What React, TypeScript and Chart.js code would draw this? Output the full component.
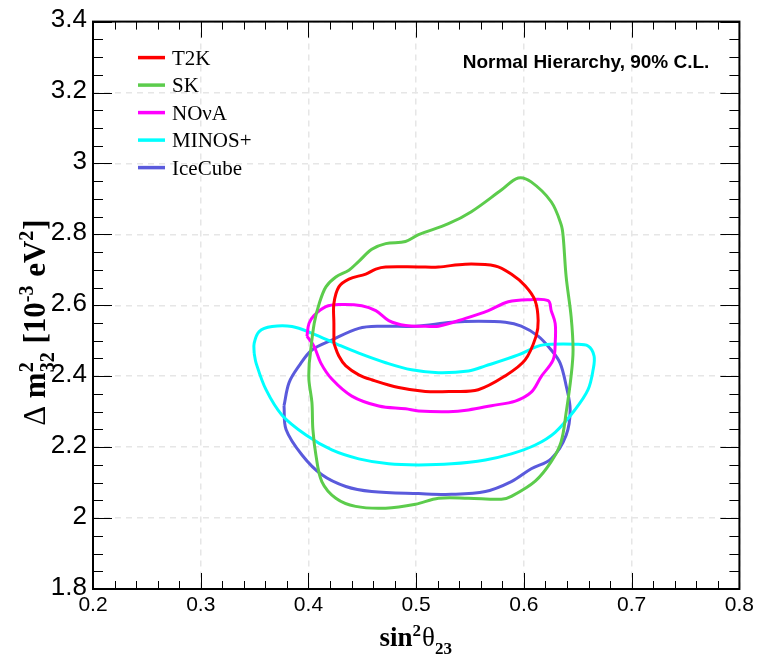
import React, { useEffect, useRef } from 'react';
import { Chart, registerables } from 'chart.js';

Chart.register(...registerables);

// ---------- axis ranges & tick labels ----------
const X_MIN = 0.2;
const X_MAX = 0.8;
const Y_MIN = 1.8;
const Y_MAX = 3.4;
const X_STEP = 0.1;
const Y_STEP = 0.2;
const X_TICK_LABELS = ['0.2', '0.3', '0.4', '0.5', '0.6', '0.7', '0.8'];
const Y_TICK_LABELS = ['1.8', '2', '2.2', '2.4', '2.6', '2.8', '3', '3.2', '3.4'];

// ---------- series (90% C.L. contours) ----------
const SERIES_NAMES = ['T2K', 'SK', 'NO\u03BDA', 'MINOS+', 'IceCube'];
const SERIES_COLORS = ['#ff0000', '#5ccc4c', '#ff00ff', '#00ffff', '#5a5adc'];

const T2K_X = [0.4236, 0.4236, 0.4236, 0.4282, 0.4375, 0.4532, 0.4625, 0.4716, 0.5022, 0.5207, 0.5456, 0.5734, 0.5882, 0.6011, 0.6104, 0.6132, 0.6113, 0.6011, 0.5826, 0.5576, 0.5326, 0.5085, 0.4837, 0.4587, 0.4467, 0.4347, 0.4282];
const T2K_Y = [2.493, 2.549, 2.605, 2.652, 2.674, 2.688, 2.702, 2.708, 2.708, 2.708, 2.716, 2.711, 2.688, 2.655, 2.613, 2.557, 2.513, 2.446, 2.401, 2.362, 2.357, 2.357, 2.368, 2.390, 2.404, 2.429, 2.457];

const SK_X = [0.4007, 0.4053, 0.4100, 0.4162, 0.4254, 0.4375, 0.4467, 0.4588, 0.4717, 0.4901, 0.5022, 0.5299, 0.5512, 0.5790, 0.5947, 0.6067, 0.6253, 0.6345, 0.6364, 0.6392, 0.6438, 0.6456, 0.6438, 0.6392, 0.6345, 0.6253, 0.6105, 0.5883, 0.5790, 0.5485, 0.5207, 0.4994, 0.4716, 0.4438, 0.4254, 0.4124, 0.4069, 0.4041, 0.4032, 0.4004];
const SK_Y = [2.437, 2.549, 2.605, 2.652, 2.680, 2.699, 2.724, 2.758, 2.774, 2.780, 2.799, 2.830, 2.864, 2.925, 2.959, 2.948, 2.892, 2.828, 2.794, 2.680, 2.568, 2.474, 2.401, 2.298, 2.215, 2.159, 2.104, 2.061, 2.053, 2.056, 2.056, 2.039, 2.028, 2.033, 2.056, 2.103, 2.178, 2.250, 2.326, 2.390];

const NOVA_X = [0.3986, 0.4005, 0.4051, 0.4162, 0.4282, 0.4495, 0.4625, 0.4745, 0.4902, 0.5088, 0.5208, 0.5457, 0.5670, 0.5855, 0.6040, 0.6225, 0.6253, 0.6290, 0.6290, 0.6271, 0.6160, 0.6068, 0.5920, 0.5698, 0.5485, 0.5300, 0.5022, 0.4902, 0.4652, 0.4402, 0.4217, 0.4115, 0.4051];
const NOVA_Y = [2.513, 2.549, 2.571, 2.596, 2.602, 2.599, 2.585, 2.557, 2.543, 2.541, 2.541, 2.563, 2.585, 2.610, 2.616, 2.613, 2.585, 2.549, 2.493, 2.446, 2.399, 2.355, 2.330, 2.317, 2.305, 2.300, 2.302, 2.308, 2.316, 2.344, 2.392, 2.437, 2.485];

const MINOS_X = [0.3496, 0.3496, 0.3542, 0.3662, 0.3847, 0.4032, 0.4282, 0.4467, 0.4717, 0.4957, 0.5207, 0.5485, 0.5642, 0.5947, 0.6132, 0.6253, 0.6475, 0.6595, 0.6651, 0.6642, 0.6595, 0.6475, 0.6290, 0.6105, 0.5883, 0.5642, 0.5328, 0.5022, 0.4745, 0.4467, 0.4217, 0.3977, 0.3755, 0.3606, 0.3514];
const MINOS_Y = [2.465, 2.493, 2.526, 2.540, 2.540, 2.521, 2.488, 2.465, 2.438, 2.418, 2.410, 2.415, 2.429, 2.460, 2.485, 2.490, 2.490, 2.485, 2.457, 2.418, 2.362, 2.306, 2.242, 2.206, 2.181, 2.164, 2.153, 2.150, 2.153, 2.167, 2.192, 2.234, 2.290, 2.362, 2.437];

const ICECUBE_X = [0.3773, 0.3820, 0.3912, 0.4032, 0.4217, 0.4467, 0.4680, 0.4994, 0.5327, 0.5577, 0.5827, 0.5975, 0.6132, 0.6253, 0.6336, 0.6392, 0.6429, 0.6392, 0.6253, 0.6068, 0.5883, 0.5642, 0.5327, 0.5022, 0.4587, 0.4347, 0.4125, 0.3940, 0.3792];
const ICECUBE_Y = [2.317, 2.382, 2.429, 2.474, 2.502, 2.535, 2.541, 2.541, 2.552, 2.555, 2.552, 2.541, 2.513, 2.474, 2.437, 2.373, 2.306, 2.234, 2.167, 2.139, 2.103, 2.075, 2.067, 2.069, 2.075, 2.089, 2.122, 2.178, 2.250];

const SERIES_X = [T2K_X, SK_X, NOVA_X, MINOS_X, ICECUBE_X];
const SERIES_Y = [T2K_Y, SK_Y, NOVA_Y, MINOS_Y, ICECUBE_Y];

const PLOT_LABEL = 'Normal Hierarchy, 90% C.L.';

// ---------- helpers ----------
const SANS = '"Liberation Sans", Arial, Helvetica, sans-serif';
const SERIF = '"Liberation Serif", "Times New Roman", Times, serif';

function closedLoop(xs: number[], ys: number[]) {
  const pts = xs.map((x, i) => ({ x, y: ys[i] }));
  pts.push({ x: xs[0], y: ys[0] });
  return pts;
}

type Piece = { t?: string; sup?: string; sub?: string; bold?: boolean };

function drawRich(ctx: CanvasRenderingContext2D, pieces: Piece[], F: number, centerX: number, baseY: number) {
  const S = Math.round(F * 0.64);
  const supDy = -0.38 * F;
  const subDy = 0.3 * F;
  const fontMain = (bold?: boolean) => `${bold === false ? '' : 'bold '}${F}px ${SERIF}`;
  const fontSmall = `bold ${S}px ${SERIF}`;
  const widthOf = (p: Piece) => {
    if (p.t !== undefined) {
      ctx.font = fontMain(p.bold);
      return ctx.measureText(p.t).width;
    }
    ctx.font = fontSmall;
    const a = p.sup ? ctx.measureText(p.sup).width : 0;
    const b = p.sub ? ctx.measureText(p.sub).width : 0;
    return Math.max(a, b) + 1;
  };
  const total = pieces.reduce((s, p) => s + widthOf(p), 0);
  let x = centerX - total / 2;
  ctx.textBaseline = 'alphabetic';
  ctx.textAlign = 'left';
  ctx.fillStyle = '#000';
  for (const p of pieces) {
    const w = widthOf(p);
    if (p.t !== undefined) {
      ctx.font = fontMain(p.bold);
      ctx.fillText(p.t, x, baseY);
    } else {
      ctx.font = fontSmall;
      if (p.sup) ctx.fillText(p.sup, x, baseY + supDy);
      if (p.sub) ctx.fillText(p.sub, x, baseY + subDy);
    }
    x += w;
  }
}

const rootStylePlugin = {
  id: 'rootStyle',
  afterDatasetsDraw(chart: any) {
    const { ctx, chartArea, scales } = chart;
    const { left, right, top, bottom } = chartArea;
    const xs = scales.x;
    const ys = scales.y;
    ctx.save();
    ctx.strokeStyle = '#000';
    ctx.lineWidth = 1;
    ctx.beginPath();
    const nx = Math.round((X_MAX - X_MIN) / 0.02);
    for (let i = 0; i <= nx; i++) {
      const px = Math.round(xs.getPixelForValue(X_MIN + i * 0.02)) + 0.5;
      const len = i % 5 === 0 ? 16 : 8;
      ctx.moveTo(px, bottom);
      ctx.lineTo(px, bottom - len);
      ctx.moveTo(px, top);
      ctx.lineTo(px, top + len);
    }
    const ny = Math.round((Y_MAX - Y_MIN) / 0.05);
    for (let i = 0; i <= ny; i++) {
      const py = Math.round(ys.getPixelForValue(Y_MIN + i * 0.05)) + 0.5;
      const len = i % 4 === 0 ? 19 : 10;
      ctx.moveTo(left, py);
      ctx.lineTo(left + len, py);
      ctx.moveTo(right, py);
      ctx.lineTo(right - len, py);
    }
    ctx.stroke();
    ctx.lineWidth = 2;
    ctx.strokeRect(left, top, right - left, bottom - top);

    // legend (inside, top-left)
    chart.data.datasets.forEach((ds: any, i: number) => {
      const rowY = top + 36 + i * 27.5;
      ctx.strokeStyle = ds.borderColor;
      ctx.lineWidth = 3.5;
      ctx.beginPath();
      ctx.moveTo(left + 45, rowY);
      ctx.lineTo(left + 72, rowY);
      ctx.stroke();
      ctx.fillStyle = '#000';
      ctx.font = `21px ${SERIF}`;
      ctx.textAlign = 'left';
      ctx.textBaseline = 'alphabetic';
      ctx.fillText(ds.label, left + 79, rowY + 7);
    });

    // plot label
    ctx.fillStyle = '#000';
    ctx.font = `bold 19px ${SANS}`;
    ctx.textAlign = 'right';
    ctx.textBaseline = 'alphabetic';
    ctx.fillText(PLOT_LABEL, right - 30, top + 46.5);

    // x axis title: sin^2 theta_23
    drawRich(
      ctx,
      [{ t: 'sin' }, { sup: '2' }, { t: '\u03B8', bold: false }, { sub: '23' }],
      27,
      (left + right) / 2,
      bottom + 57
    );

    // y axis title: Delta m^2_32 [10^-3 eV^2]
    ctx.save();
    ctx.translate(45, top + 301);
    ctx.rotate(-Math.PI / 2);
    drawRich(
      ctx,
      [
        { t: '\u0394', bold: false },
        { t: ' m' },
        { sup: '2', sub: '32' },
        { t: ' [10' },
        { sup: '-3' },
        { t: ' eV' },
        { sup: '2' },
        { t: ']' },
      ],
      31,
      0,
      0
    );
    ctx.restore();
    ctx.restore();
  },
};

export default function App() {
  const canvasRef = useRef<HTMLCanvasElement | null>(null);

  useEffect(() => {
    const canvas = canvasRef.current;
    if (!canvas) return;
    const datasets = SERIES_NAMES.map((name, i) => ({
      label: name,
      data: closedLoop(SERIES_X[i], SERIES_Y[i]),
      borderColor: SERIES_COLORS[i],
      backgroundColor: SERIES_COLORS[i],
      borderWidth: 3,
      pointRadius: 0,
      pointHoverRadius: 0,
      showLine: true,
      fill: false,
      tension: 0.35,
    }));

    const chart = new Chart(canvas, {
      type: 'scatter',
      data: { datasets },
      options: {
        responsive: false,
        animation: false,
        devicePixelRatio: 1,
        layout: { padding: { top: 15, right: 16, left: 0, bottom: 0 } },
        plugins: {
          legend: { display: false },
          tooltip: { enabled: false },
          title: { display: false },
        },
        scales: {
          x: {
            type: 'linear',
            min: X_MIN,
            max: X_MAX,
            ticks: {
              stepSize: X_STEP,
              autoSkip: false,
              maxRotation: 0,
              padding: 4,
              color: '#000',
              font: { family: SANS, size: 21 },
              callback: (v: any) => X_TICK_LABELS[Math.round((Number(v) - X_MIN) / X_STEP)] ?? '',
            },
            grid: { color: '#e6e6e6', lineWidth: 1.5, drawTicks: false },
            border: { display: false, dash: [6, 5] },
            afterFit: (s: any) => {
              s.height = 69;
            },
          },
          y: {
            type: 'linear',
            min: Y_MIN,
            max: Y_MAX,
            ticks: {
              stepSize: Y_STEP,
              autoSkip: false,
              padding: 6,
              labelOffset: -1.5,
              color: '#000',
              font: { family: SANS, size: 26 },
              callback: (v: any) => Y_TICK_LABELS[Math.round((Number(v) - Y_MIN) / Y_STEP)] ?? '',
            },
            grid: { color: '#e6e6e6', lineWidth: 1.5, drawTicks: false },
            border: { display: false, dash: [6, 5] },
            afterFit: (s: any) => {
              s.width = 93;
            },
          },
        },
      } as any,
      plugins: [rootStylePlugin],
    });
    return () => chart.destroy();
  }, []);

  return (
    <div style={{ position: 'absolute', left: 0, top: 0, width: 758, height: 658, background: '#fff' }}>
      <canvas ref={canvasRef} width={758} height={658} style={{ display: 'block', width: 758, height: 658 }} />
    </div>
  );
}
